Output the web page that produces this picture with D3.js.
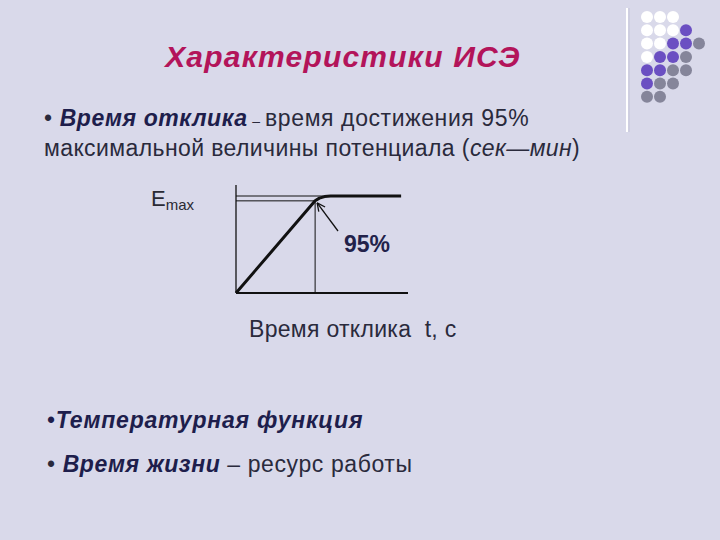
<!DOCTYPE html>
<html><head><meta charset="utf-8">
<script src="https://cdn.jsdelivr.net/npm/d3@7"></script>
<style>
html,body{margin:0;padding:0;background:#d9d9ea;}
svg{display:block;font-family:"Liberation Sans",Arial,sans-serif;}
</style></head>
<body>
<script>
// ---- data ----
const timeValues = [0, 4.6, 4.85, 5.15, 5.5, 9.6];        // t, arbitrary units
const potentialValues = [0, 95, 97.8, 99.4, 100, 100];     // % of Emax
const responseTime = 4.6;       // time of reaching 95%
const level95 = 95;
const levelMax = 100;
const titleText = "Характеристики ИСЭ";
const xAxisLabel = "Время отклика  t, с";
const dotRows = ["WWW", "WWWP", "WWPPG", "WPPG", "PPGG", "PGG", "GG"];

const W = 720, H = 540;
const svg = d3.select("body").append("svg").attr("width", W).attr("height", H);
svg.append("rect").attr("width", W).attr("height", H).attr("fill", "#d9d9ea");

// decoration: vertical line and dot grid
svg.append("line").attr("x1", 627).attr("x2", 627).attr("y1", 8).attr("y2", 132)
  .attr("stroke", "#ffffff").attr("stroke-width", 2);
svg.append("line").attr("x1", 629).attr("x2", 629).attr("y1", 8).attr("y2", 132)
  .attr("stroke", "#c4c4d8").attr("stroke-width", 1);
const dotColor = {W: "#ffffff", P: "#6b4fc2", G: "#85859a"};
dotRows.forEach((row, ri) => {
  row.split("").forEach((c, ci) => {
    svg.append("circle").attr("cx", 647 + ci * 13).attr("cy", 17 + ri * 13.3).attr("r", 6)
      .attr("fill", dotColor[c]);
  });
});

// title
svg.append("text").attr("x", 343).attr("y", 67).attr("text-anchor", "middle")
  .attr("font-size", 30).attr("font-weight", "bold").attr("font-style", "italic")
  .attr("letter-spacing", 1.2).attr("fill", "#b3145a").text(titleText);

const LS = 0.6;
// bullet 1
const t1 = svg.append("text").attr("x", 44).attr("y", 126).attr("font-size", 23)
  .attr("letter-spacing", LS).attr("fill", "#2a2a3c");
t1.append("tspan").text("• ");
t1.append("tspan").attr("font-weight", "bold").attr("font-style", "italic").attr("fill", "#1e1e4c").text("Время отклика");
t1.append("tspan").attr("font-size", 14).text(" – ");
t1.append("tspan").text("время достижения 95%");
const t2 = svg.append("text").attr("x", 44).attr("y", 156).attr("font-size", 23)
  .attr("letter-spacing", 0.4).attr("fill", "#2a2a3c");
t2.append("tspan").text("максимальной величины потенциала (");
t2.append("tspan").attr("font-style", "italic").text("сек—мин");
t2.append("tspan").text(")");

// chart
const x = d3.scaleLinear().domain([0, 10]).range([236, 408]);
const y = d3.scaleLinear().domain([0, 100]).range([293, 196]);
const g = svg.append("g");

// axes (no ticks)
g.append("line").attr("x1", x(0)).attr("x2", x(0)).attr("y1", 185).attr("y2", y(0))
  .attr("stroke", "#111").attr("stroke-width", 1.3);
g.append("line").attr("x1", x(0)).attr("x2", x(10)).attr("y1", y(0)).attr("y2", y(0))
  .attr("stroke", "#111").attr("stroke-width", 1.8);

// reference lines
g.append("line").attr("x1", x(0)).attr("x2", x(5.5)).attr("y1", y(levelMax)).attr("y2", y(levelMax))
  .attr("stroke", "#111").attr("stroke-width", 1);
g.append("line").attr("x1", x(0)).attr("x2", x(responseTime)).attr("y1", y(level95)).attr("y2", y(level95))
  .attr("stroke", "#111").attr("stroke-width", 1);
g.append("line").attr("x1", x(responseTime)).attr("x2", x(responseTime)).attr("y1", y(level95)).attr("y2", y(0))
  .attr("stroke", "#111").attr("stroke-width", 1);

// curve
const pts = timeValues.map((t, i) => [t, potentialValues[i]]);
g.append("path").datum(pts)
  .attr("d", d3.line().x(d => x(d[0])).y(d => y(d[1])))
  .attr("fill", "none").attr("stroke", "#111").attr("stroke-width", 3).attr("stroke-linejoin", "round");

// arrow
const ax = x(responseTime) + 2, ay = y(level95) + 2;
g.append("line").attr("x1", 338).attr("y1", 231).attr("x2", ax).attr("y2", ay)
  .attr("stroke", "#111").attr("stroke-width", 1.3);
const ang = Math.atan2(231 - ay, 338 - ax);
[0.45, -0.45].forEach(da => {
  g.append("line").attr("x1", ax).attr("y1", ay)
    .attr("x2", ax + 9 * Math.cos(ang + da)).attr("y2", ay + 9 * Math.sin(ang + da))
    .attr("stroke", "#111").attr("stroke-width", 1.3);
});
g.append("text").attr("x", 344).attr("y", 252).attr("font-size", 23).attr("font-weight", "bold")
  .attr("fill", "#22224a").text("95%");

// Emax label
const em = svg.append("text").attr("x", 151).attr("y", 206).attr("font-size", 22).attr("fill", "#2a2a34");
em.append("tspan").text("E");
em.append("tspan").attr("font-size", 15).attr("dy", 4).text("max");

// x label
svg.append("text").attr("x", 249).attr("y", 337).attr("font-size", 23).attr("fill", "#2a2a3c")
  .attr("letter-spacing", 0.3).attr("xml:space", "preserve").text(xAxisLabel);

// bullets 3 & 4
const t3 = svg.append("text").attr("x", 47).attr("y", 428).attr("font-size", 23)
  .attr("letter-spacing", 0.8).attr("fill", "#1e1e4c");
t3.append("tspan").text("•");
t3.append("tspan").attr("font-weight", "bold").attr("font-style", "italic").text("Температурная функция");
const t4 = svg.append("text").attr("x", 47).attr("y", 472).attr("font-size", 23)
  .attr("letter-spacing", LS).attr("fill", "#2a2a3c");
t4.append("tspan").text("• ");
t4.append("tspan").attr("font-weight", "bold").attr("font-style", "italic").attr("fill", "#1e1e4c").text("Время жизни");
t4.append("tspan").text(" – ресурс работы");
</script>
</body></html>
